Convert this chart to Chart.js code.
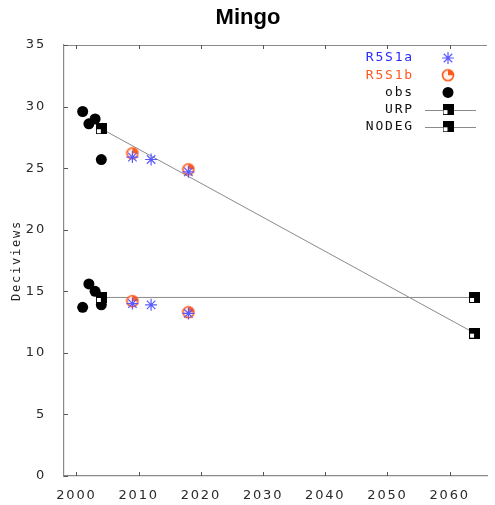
<!DOCTYPE html>
<html><head><meta charset="utf-8">
<script src="https://cdn.jsdelivr.net/npm/chart.js@4/dist/chart.umd.min.js"></script>
<style>html,body{margin:0;padding:0;background:#fff}#wrap{width:495px;height:505px}</style>
</head><body><div id="wrap"><canvas id="c" width="495" height="505"></canvas></div>
<script>
const chartTitle = "Mingo";
const yTitle = "Deciviews";
const xTickValues = [2000, 2010, 2020, 2030, 2040, 2050, 2060];
const yTickValues = [0, 5, 10, 15, 20, 25, 30, 35];
const seriesNames = ["R5S1a", "R5S1b", "obs", "URP", "NODEG"];
const r5s1aYears = [2009, 2012, 2018, 2009, 2012, 2018];
const r5s1aValues = [25.9, 25.7, 24.7, 14.0, 13.9, 13.2];
const r5s1bYears = [2009, 2018, 2009, 2018];
const r5s1bValues = [26.2, 24.9, 14.2, 13.3];
const obsYears = [2001, 2002, 2003, 2004, 2001, 2002, 2003, 2004];
const obsValues = [29.6, 28.6, 29.0, 25.7, 13.7, 15.6, 15.0, 13.9];
const urpYears = [2004, 2064];
const urpValues = [28.2, 11.6];
const nodegYears = [2004, 2064];
const nodegValues = [14.5, 14.5];

const BLUE = '#5a5aff', BLUE_T = '#2a2aff', ORANGE = '#ff5a1e', GRAY = '#8a8a8a';

function pts(xs, ys){ return xs.map((x,i)=>({x:x, y:ys[i]})); }

function makeSquare(){
  const c = document.createElement('canvas'); c.width = 11; c.height = 11;
  const g = c.getContext('2d');
  g.fillStyle = '#000'; g.fillRect(0,0,11,11);
  g.fillStyle = '#fff'; g.fillRect(1,6,4,4);
  return c;
}
function makeOrange(){
  const c = document.createElement('canvas'); c.width = 14; c.height = 14;
  const g = c.getContext('2d');
  g.fillStyle = '#fff3ee'; g.beginPath(); g.arc(7,7,5.5,0,Math.PI*2); g.fill();
  g.fillStyle = ORANGE; g.beginPath(); g.moveTo(7,7); g.arc(7,7,5.5,-Math.PI/2,0); g.closePath(); g.fill();
  g.strokeStyle = ORANGE; g.lineWidth = 1.6; g.beginPath(); g.arc(7,7,5.5,0,Math.PI*2); g.stroke();
  return c;
}
const sqImg = makeSquare();
const orImg = makeOrange();

const framePlugin = {
  id: 'frame',
  beforeDraw(chart){ chart.ctx.letterSpacing = '1.8px'; },
  afterDraw(chart){
    const ctx = chart.ctx;
    ctx.save();
    ctx.letterSpacing = '0px';
    ctx.font = 'bold 22px "Liberation Sans", Arial, sans-serif';
    ctx.fillStyle = '#000'; ctx.textAlign = 'center'; ctx.textBaseline = 'middle';
    ctx.fillText(chartTitle, 248, 18);
    ctx.restore();
  },
  afterDatasetsDraw(chart){
    const ctx = chart.ctx, a = chart.chartArea, xs = chart.scales.x, ys = chart.scales.y;
    ctx.save();
    ctx.letterSpacing = '0px';
    ctx.strokeStyle = GRAY; ctx.lineWidth = 1.2;
    ctx.beginPath(); ctx.moveTo(a.left, a.top+0.5); ctx.lineTo(a.right, a.top+0.5); ctx.stroke();
    ctx.strokeStyle = '#555'; ctx.lineWidth = 1;
    xTickValues.forEach(v=>{
      const px = Math.round(xs.getPixelForValue(v))+0.5;
      ctx.beginPath(); ctx.moveTo(px, a.bottom); ctx.lineTo(px, a.bottom-4); ctx.stroke();
      ctx.beginPath(); ctx.moveTo(px, a.top); ctx.lineTo(px, a.top+4); ctx.stroke();
    });
    yTickValues.forEach(v=>{
      const py = Math.round(ys.getPixelForValue(v))+0.5;
      ctx.beginPath(); ctx.moveTo(a.left, py); ctx.lineTo(a.left+4, py); ctx.stroke();
    });
    // legend
    const colors = [BLUE_T, ORANGE, '#111', '#111', '#111'];
    const textX = 414, markX = 448, y0 = 58, dy = 17.2;
    ctx.font = '13px "DejaVu Sans Mono"';
    ctx.textAlign = 'right'; ctx.textBaseline = 'middle';
    ctx.letterSpacing = '1.8px';
    seriesNames.forEach((n,i)=>{
      const y = y0 + i*dy;
      ctx.fillStyle = colors[i];
      ctx.fillText(n, textX, y);
    });
    ctx.letterSpacing = '0px';
    let y = y0;
    ctx.strokeStyle = BLUE; ctx.lineWidth = 1.2;
    const r = 6;
    ctx.beginPath();
    for (let k=0;k<4;k++){ const ang = k*Math.PI/4; ctx.moveTo(markX - r*Math.cos(ang), y - r*Math.sin(ang)); ctx.lineTo(markX + r*Math.cos(ang), y + r*Math.sin(ang)); }
    ctx.stroke();
    y = y0 + dy; ctx.drawImage(orImg, markX-7, y-7);
    y = y0 + 2*dy; ctx.fillStyle = '#000'; ctx.beginPath(); ctx.arc(markX, y, 5.5, 0, Math.PI*2); ctx.fill();
    [3,4].forEach(i=>{
      const yy = y0 + i*dy;
      ctx.strokeStyle = GRAY; ctx.lineWidth = 1;
      ctx.beginPath(); ctx.moveTo(425, Math.round(yy)+0.5); ctx.lineTo(476, Math.round(yy)+0.5); ctx.stroke();
      ctx.drawImage(sqImg, markX-5.5, yy-5.5);
    });
    ctx.restore();
  }
};

new Chart(document.getElementById('c'), {
  type: 'scatter',
  data: {
    datasets: [
      { label: 'R5S1a', data: pts(r5s1aYears, r5s1aValues), pointStyle: 'star', radius: 6, borderColor: BLUE, backgroundColor: BLUE, borderWidth: 1.2, order: 1 },
      { label: 'R5S1b', data: pts(r5s1bYears, r5s1bValues), pointStyle: orImg, radius: 7, order: 2 },
      { label: 'URP', data: pts(urpYears, urpValues), showLine: true, borderColor: GRAY, borderWidth: 1, pointStyle: sqImg, radius: 6, order: 3 },
      { label: 'NODEG', data: pts(nodegYears, nodegValues), showLine: true, borderColor: GRAY, borderWidth: 1, pointStyle: sqImg, radius: 6, order: 4 },
      { label: 'obs', data: pts(obsYears, obsValues), pointStyle: 'circle', radius: 5.5, backgroundColor: '#000', borderColor: '#000', borderWidth: 0, order: 5 }
    ]
  },
  options: {
    responsive: false, animation: false, devicePixelRatio: 1,
    layout: { padding: { left: 0, right: 0, top: 45, bottom: 0 } },
    plugins: {
      legend: { display: false }, tooltip: { enabled: false }, title: { display: false }
    },
    scales: {
      x: {
        type: 'linear', min: 1998, max: 2066,
        afterBuildTicks: s => { s.ticks = xTickValues.map(v=>({value:v})); },
        afterFit: s => { s.height = 29; },
        grid: { display: false },
        border: { display: true, color: GRAY, width: 1.2 },
        ticks: { color: '#2a2a2a', font: { family: '"DejaVu Sans"', size: 13 }, padding: 4, maxRotation: 0, autoSkip: false, callback: v => String(v) }
      },
      y: {
        min: 0, max: 35,
        afterBuildTicks: s => { s.ticks = yTickValues.map(v=>({value:v})); },
        afterFit: s => { s.width = 64; },
        grid: { display: false },
        border: { display: true, color: GRAY, width: 1.2 },
        ticks: { color: '#2a2a2a', font: { family: '"DejaVu Sans"', size: 13 }, padding: 10, callback: v => String(v) },
        title: { display: true, text: yTitle, color: '#222', font: { family: '"DejaVu Sans Mono"', size: 12 }, padding: { top: 10, bottom: 4 } }
      }
    }
  },
  plugins: [framePlugin]
});
</script></body></html>
